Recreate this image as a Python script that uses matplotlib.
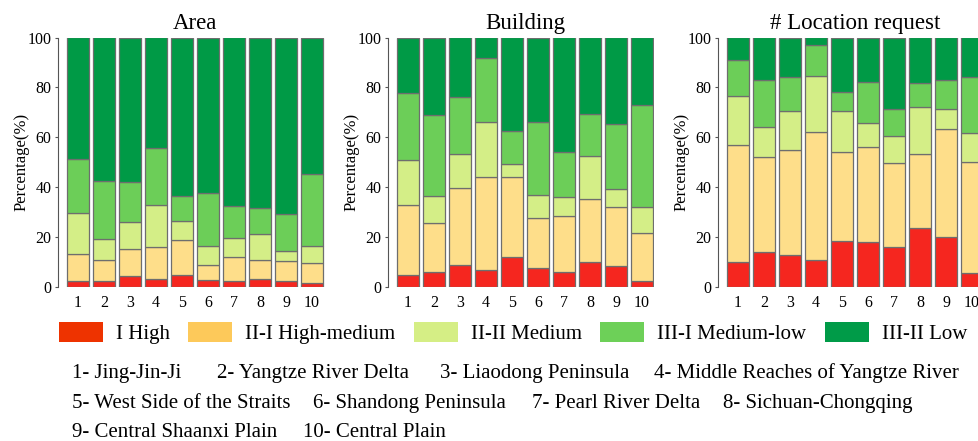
import matplotlib.pyplot as plt
from matplotlib.patches import Patch
import numpy as np

plt.rcParams['font.family'] = ['Liberation Serif', 'DejaVu Serif']

regions = [str(i) for i in range(1, 11)]
levels = ['I High', 'II-I High-medium', 'II-II Medium', 'III-I Medium-low', 'III-II Low']

# percentage of each level per region (segments, bottom to top)
area_high = [2.5, 2.5, 4.3, 3.2, 4.8, 2.7, 2.3, 3.3, 2.4, 1.5]
area_hmed = [10.7, 8.3, 10.9, 12.8, 14.0, 6.1, 9.7, 7.5, 8.0, 8.1]
area_med = [16.4, 8.3, 10.7, 16.8, 7.5, 7.5, 7.5, 10.4, 4.1, 6.7]
area_mlow = [21.9, 23.4, 16.2, 23.1, 10.0, 21.2, 12.8, 10.5, 14.7, 28.8]
area_low = [48.5, 57.5, 57.9, 44.1, 63.7, 62.5, 67.7, 68.3, 70.8, 54.9]

bld_high = [4.9, 6.0, 8.8, 6.8, 12.1, 7.6, 6.0, 10.0, 8.4, 2.3]
bld_hmed = [27.9, 19.5, 30.7, 37.2, 31.9, 20.0, 22.3, 25.2, 23.5, 19.3]
bld_med = [18.0, 10.9, 14.0, 22.3, 5.1, 9.1, 7.6, 17.2, 7.4, 10.3]
bld_mlow = [26.8, 32.5, 22.6, 25.6, 13.6, 29.6, 18.4, 17.1, 26.2, 41.2]
bld_low = [22.4, 31.1, 23.9, 8.1, 37.3, 33.7, 45.7, 30.5, 34.5, 26.9]

loc_high = [10.0, 14.0, 12.7, 10.7, 18.3, 18.0, 16.1, 23.5, 20.0, 5.6]
loc_hmed = [46.9, 38.0, 42.4, 51.3, 36.0, 38.3, 33.5, 29.7, 43.2, 44.7]
loc_med = [19.8, 12.3, 15.4, 22.7, 16.2, 9.6, 10.8, 18.9, 8.0, 11.3]
loc_mlow = [14.2, 18.6, 13.8, 12.4, 7.8, 16.4, 10.8, 9.8, 11.9, 22.7]
loc_low = [9.1, 17.1, 15.7, 2.9, 21.7, 17.7, 28.8, 18.1, 16.9, 15.7]

titles = ['Area', 'Building', '# Location request']

region_names = ['1- Jing-Jin-Ji', '2- Yangtze River Delta', '3- Liaodong Peninsula',
                '4- Middle Reaches of Yangtze River', '5- West Side of the Straits',
                '6- Shandong Peninsula', '7- Pearl River Delta', '8- Sichuan-Chongqing',
                '9- Central Shaanxi Plain', '10- Central Plain']

bar_colors = ['#f5261f', '#fede8a', '#d4ee87', '#6cce58', '#009a46']
legend_colors = ['#ee3300', '#fdc95a', '#d5ee85', '#6dd058', '#009b48']

panels = [
    [area_high, area_hmed, area_med, area_mlow, area_low],
    [bld_high, bld_hmed, bld_med, bld_mlow, bld_low],
    [loc_high, loc_hmed, loc_med, loc_mlow, loc_low],
]

W, H = 979, 441
fig = plt.figure(figsize=(W / 100, H / 100), dpi=100)

lefts = [58, 388, 718]
x = np.arange(1, 11)
for k in range(3):
    ax = fig.add_axes([lefts[k] / W, 1 - 287 / H, 266.5 / W, 249.5 / H])
    bottom = np.zeros(10)
    for seg, col in zip(panels[k], bar_colors):
        ax.bar(x, seg, bottom=bottom, width=0.85, color=col,
               edgecolor='#6e6e6e', linewidth=0.9)
        bottom += np.array(seg)
    ax.set_xlim(0.23, 10.48)
    ax.set_ylim(0, 100)
    ax.set_yticks([0, 20, 40, 60, 80, 100])
    ax.set_xticks(x)
    ax.set_xticklabels(regions)
    for s in ['top', 'right', 'bottom']:
        ax.spines[s].set_visible(False)
    ax.spines['left'].set_color('#555555')
    ax.tick_params(axis='y', length=2.5, width=0.8, color='#555555', pad=2,
                   labelsize=11.5, direction='out')
    ax.tick_params(axis='x', length=0, pad=6, labelsize=11.5)
    ax.set_ylabel('Percentage(%)', fontsize=12)
    ax.yaxis.set_label_coords(-0.108, 0.5)
    ax.set_title(titles[k], fontsize=16.5, pad=6, x=0.515)

# legend
handles = [Patch(facecolor=c, edgecolor='none') for c in legend_colors]
fig.legend(handles, levels, loc='upper left', bbox_to_anchor=(59 / W, 1 - 322 / H),
           ncol=5, frameon=False, fontsize=15, handlelength=2.1, handleheight=1.1,
           handletextpad=0.62, columnspacing=0.9, borderpad=0, borderaxespad=0)

# region key
name_x = [72, 217, 440, 654, 72, 313, 532, 723, 72, 303]
name_y = [378, 378, 378, 378, 408, 408, 408, 408, 437, 437]
for name, px, py in zip(region_names, name_x, name_y):
    fig.text(px / W, 1 - py / H, name, fontsize=15, va='baseline', ha='left')

fig.savefig('out.png', dpi=100)
